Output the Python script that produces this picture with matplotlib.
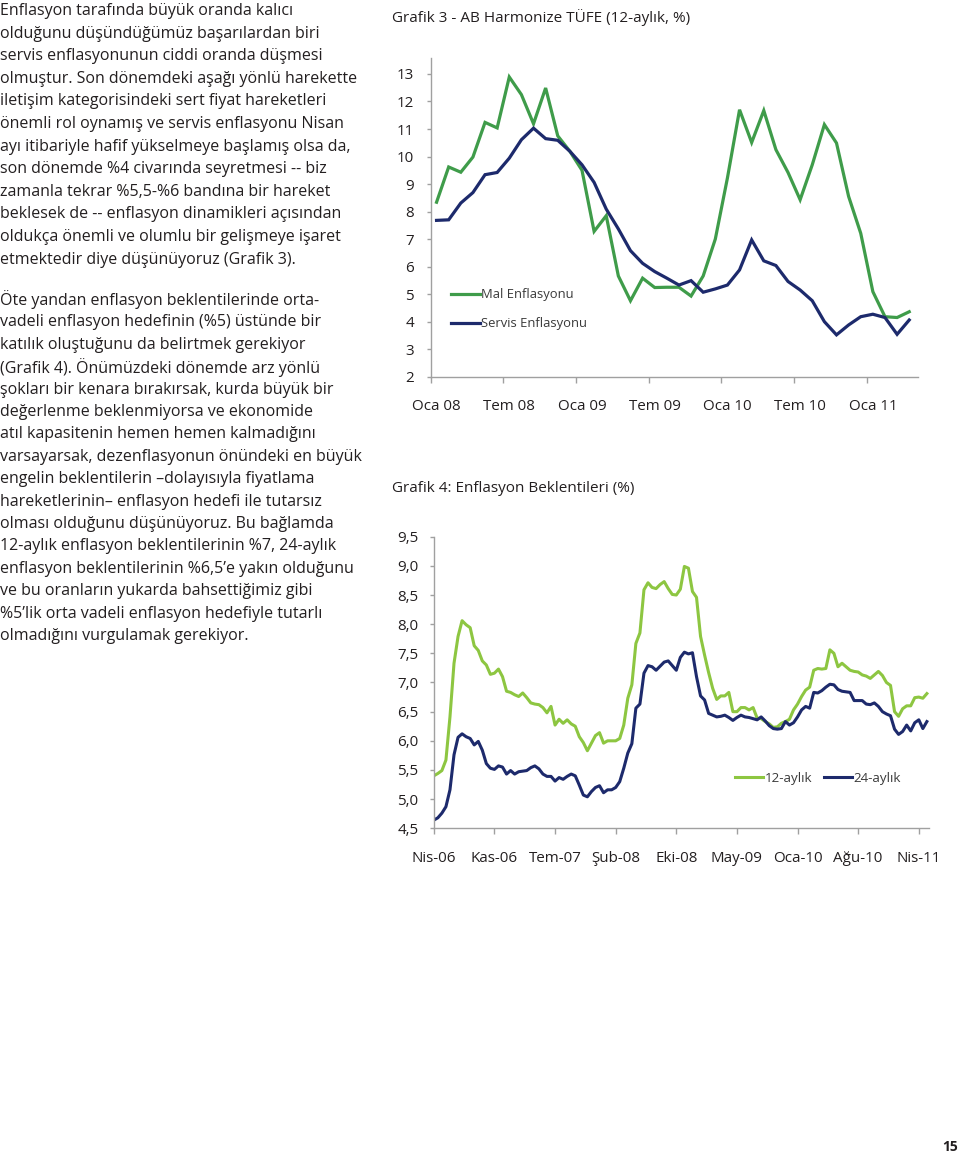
import matplotlib
matplotlib.use("Agg")
import matplotlib.pyplot as plt
import numpy as np

plt.rcParams['font.family'] = ['Open Sans', 'DejaVu Sans']

W, H = 960, 1153

# --- Grafik 3: AB Harmonize TUFE, aylik (Oca 08 - Nis 11)
mal_enf = [8.34, 9.62, 9.43, 9.98, 11.24, 11.04, 12.89, 12.25, 11.19, 12.49,
           10.75, 10.19, 9.50, 7.28, 7.85, 5.66, 4.76, 5.58, 5.24, 5.25,
           5.25, 4.93, 5.66, 7.00, 9.22, 11.70, 10.51, 11.67, 10.25, 9.42,
           8.43, 9.70, 11.16, 10.49, 8.55, 7.21, 5.09, 4.18, 4.15, 4.36]
servis_enf = [7.68, 7.70, 8.31, 8.69, 9.34, 9.42, 9.94, 10.61, 11.03, 10.65,
              10.59, 10.19, 9.70, 9.06, 8.09, 7.37, 6.58, 6.12, 5.82, 5.58,
              5.33, 5.49, 5.07, 5.19, 5.33, 5.88, 6.97, 6.21, 6.04, 5.46,
              5.15, 4.76, 4.00, 3.52, 3.88, 4.18, 4.27, 4.15, 3.54, 4.06]
g3_labels = ['Oca 08', 'Tem 08', 'Oca 09', 'Tem 09', 'Oca 10', 'Tem 10', 'Oca 11']
g3_yticks = [2, 3, 4, 5, 6, 7, 8, 9, 10, 11, 12, 13]

# --- Grafik 4: Enflasyon beklentileri, iki haftalik (Nis-06 - May-11)
bek_12 = [5.40, 5.44, 5.49, 5.67, 6.41, 7.33, 7.79, 8.06, 7.99, 7.94,
          7.63, 7.55, 7.37, 7.30, 7.14, 7.16, 7.23, 7.10, 6.85, 6.83,
          6.79, 6.76, 6.82, 6.74, 6.65, 6.63, 6.62, 6.57, 6.48, 6.59,
          6.27, 6.37, 6.30, 6.36, 6.29, 6.25, 6.07, 5.97, 5.83, 5.96,
          6.09, 6.14, 5.96, 6.00, 6.00, 6.00, 6.04, 6.27, 6.73, 6.96,
          7.67, 7.85, 8.59, 8.71, 8.63, 8.61, 8.68, 8.73, 8.61, 8.51,
          8.50, 8.60, 8.99, 8.96, 8.56, 8.46, 7.79, 7.47, 7.17, 6.90,
          6.71, 6.77, 6.77, 6.83, 6.50, 6.50, 6.57, 6.57, 6.53, 6.57,
          6.39, 6.38, 6.33, 6.29, 6.23, 6.24, 6.30, 6.33, 6.37, 6.53,
          6.63, 6.76, 6.87, 6.92, 7.21, 7.24, 7.23, 7.24, 7.56, 7.50,
          7.27, 7.33, 7.27, 7.21, 7.19, 7.18, 7.13, 7.11, 7.07, 7.13,
          7.19, 7.12, 7.00, 6.95, 6.50, 6.42, 6.55, 6.60, 6.60, 6.74,
          6.75, 6.73, 6.81]
bek_24 = [4.64, 4.68, 4.76, 4.87, 5.16, 5.76, 6.06, 6.12, 6.07, 6.04,
          5.93, 5.99, 5.84, 5.61, 5.53, 5.51, 5.57, 5.55, 5.43, 5.49,
          5.43, 5.47, 5.48, 5.49, 5.54, 5.57, 5.52, 5.43, 5.39, 5.39,
          5.31, 5.37, 5.34, 5.39, 5.43, 5.40, 5.24, 5.07, 5.04, 5.13,
          5.20, 5.23, 5.11, 5.16, 5.16, 5.20, 5.30, 5.53, 5.79, 5.95,
          6.56, 6.63, 7.16, 7.29, 7.27, 7.21, 7.28, 7.35, 7.37, 7.29,
          7.21, 7.43, 7.52, 7.49, 7.51, 7.10, 6.77, 6.70, 6.47, 6.44,
          6.41, 6.42, 6.44, 6.40, 6.35, 6.40, 6.44, 6.41, 6.40, 6.38,
          6.36, 6.41, 6.34, 6.26, 6.21, 6.20, 6.21, 6.33, 6.27, 6.31,
          6.41, 6.53, 6.59, 6.56, 6.83, 6.82, 6.86, 6.92, 6.97, 6.96,
          6.88, 6.85, 6.84, 6.83, 6.69, 6.69, 6.69, 6.63, 6.62, 6.65,
          6.59, 6.50, 6.46, 6.43, 6.20, 6.11, 6.16, 6.27, 6.17, 6.31,
          6.36, 6.21, 6.33]
g4_labels = ['Nis-06', 'Kas-06', 'Tem-07', 'Şub-08', 'Eki-08', 'May-09',
             'Oca-10', 'Ağu-10', 'Nis-11']
g4_yticks = [4.5, 5.0, 5.5, 6.0, 6.5, 7.0, 7.5, 8.0, 8.5, 9.0, 9.5]

para1 = [
    "Enflasyon tarafında büyük oranda kalıcı",
    "olduğunu düşündüğümüz başarılardan biri",
    "servis enflasyonunun ciddi oranda düşmesi",
    "olmuştur. Son dönemdeki aşağı yönlü harekette",
    "iletişim kategorisindeki sert fiyat hareketleri",
    "önemli rol oynamış ve servis enflasyonu Nisan",
    "ayı itibariyle hafif yükselmeye başlamış olsa da,",
    "son dönemde %4 civarında seyretmesi -- biz",
    "zamanla tekrar %5,5-%6 bandına bir hareket",
    "beklesek de -- enflasyon dinamikleri açısından",
    "oldukça önemli ve olumlu bir gelişmeye işaret",
    "etmektedir diye düşünüyoruz (Grafik 3).",
]
para2 = [
    "Öte yandan enflasyon beklentilerinde orta-",
    "vadeli enflasyon hedefinin (%5) üstünde bir",
    "katılık oluştuğunu da belirtmek gerekiyor",
    "(Grafik 4). Önümüzdeki dönemde arz yönlü",
    "şokları bir kenara bırakırsak, kurda büyük bir",
    "değerlenme beklenmiyorsa ve ekonomide",
    "atıl kapasitenin hemen hemen kalmadığını",
    "varsayarsak, dezenflasyonun önündeki en büyük",
    "engelin beklentilerin –dolayısıyla fiyatlama",
    "hareketlerinin– enflasyon hedefi ile tutarsız",
    "olması olduğunu düşünüyoruz. Bu bağlamda",
    "12-aylık enflasyon beklentilerinin %7, 24-aylık",
    "enflasyon beklentilerinin %6,5’e yakın olduğunu",
    "ve bu oranların yukarda bahsettiğimiz gibi",
    "%5’lik orta vadeli enflasyon hedefiyle tutarlı",
    "olmadığını vurgulamak gerekiyor.",
]

TXT = '#231f20'
AXC = '#a0a0a0'
GREEN3 = '#3f9c4a'
NAVY = '#1d2a6c'
GREEN4 = '#8dc641'


def px_axes(fig, left, top, right, bottom):
    return fig.add_axes([left / W, 1 - bottom / H, (right - left) / W, (bottom - top) / H])


def style_axes(ax):
    for s in ('top', 'right'):
        ax.spines[s].set_visible(False)
    for s in ('left', 'bottom'):
        ax.spines[s].set_color(AXC)
        ax.spines[s].set_linewidth(1.0)
    ax.tick_params(which='both', direction='out', color=AXC, width=1.0,
                   labelcolor=TXT, labelsize=10.9)


fig = plt.figure(figsize=(W / 100, H / 100), dpi=100)

# body text
y = 11
for line in para1:
    fig.text(0.5 / W, 1 - y / H, line, fontsize=11.5, color=TXT, va='center', ha='left')
    y += 22.6
y = 300
for line in para2:
    fig.text(0.5 / W, 1 - y / H, line, fontsize=11.5, color=TXT, va='center', ha='left')
    y += 22.4

# ---- Grafik 3
fig.text(392 / W, 1 - 17 / H, "Grafik 3 - AB Harmonize TÜFE (12-aylık, %)",
         fontsize=11.0, color=TXT, va='center', ha='left')
ax3 = px_axes(fig, 430.5, 58, 917.7, 376.7)
x3 = np.arange(len(mal_enf))
ax3.plot(x3, mal_enf, color=GREEN3, lw=2.3, label='Mal Enflasyonu', solid_joinstyle='miter')
ax3.plot(x3, servis_enf, color=NAVY, lw=2.3, label='Servis Enflasyonu', solid_joinstyle='miter')
ax3.set_xlim(-0.5, 39.7)
ax3.set_ylim(2, 13.58)
ax3.set_yticks(g3_yticks)
ax3.set_yticklabels([str(v) for v in g3_yticks])
ax3.set_xticks(np.arange(len(g3_labels)) * 6)
ax3.set_xticklabels(g3_labels)
ax3.set_xticks(np.arange(len(g3_labels)) * 6 - 0.5, minor=True)
style_axes(ax3)
ax3.tick_params(axis='x', which='major', length=0, pad=16)
ax3.tick_params(axis='x', which='minor', length=4)
ax3.tick_params(axis='y', length=3, pad=9)
leg3 = ax3.legend(loc='center left', bbox_to_anchor=((446 - 430.5) / 487.2, (4.45 - 2) / 11.58),
                  frameon=False, handlelength=2.2, handletextpad=0.1, labelspacing=1.2,
                  fontsize=9.4, borderaxespad=0)
for t in leg3.get_texts():
    t.set_color('#3a3a3a')

# ---- Grafik 4
fig.text(392 / W, 1 - 489 / H, "Grafik 4: Enflasyon Beklentileri (%)",
         fontsize=11.0, color=TXT, va='center', ha='left')
ax4 = px_axes(fig, 433.8, 536.7, 928.5, 828.3)
x4 = np.arange(len(bek_12))
ax4.plot(x4, bek_12, color=GREEN4, lw=2.2, label='12-aylık')
ax4.plot(x4, bek_24, color=NAVY, lw=2.2, label='24-aylık')
ax4.set_xlim(0, 122.4)
ax4.set_ylim(4.5, 9.5)
ax4.set_yticks(g4_yticks)
ax4.set_yticklabels([f"{v:.1f}".replace('.', ',') for v in g4_yticks])
ax4.set_xticks(np.arange(len(g4_labels)) * 15)
ax4.set_xticklabels(g4_labels)
style_axes(ax4)
ax4.tick_params(axis='x', length=4, pad=12)
ax4.tick_params(axis='y', length=3, pad=8)
leg4 = ax4.legend(loc='center left', bbox_to_anchor=((730 - 433.8) / 494.7, (5.36 - 4.5) / 5.0),
                  ncol=2, frameon=False, handlelength=2.1, handletextpad=0.1, columnspacing=0.9,
                  fontsize=9.6, borderaxespad=0)
for t in leg4.get_texts():
    t.set_color('#3a3a3a')

fig.text(958 / W, 1 - 1147 / H, "15", fontsize=10, fontweight='bold', color=TXT,
         va='center', ha='right')

fig.savefig('out.png', dpi=100)
